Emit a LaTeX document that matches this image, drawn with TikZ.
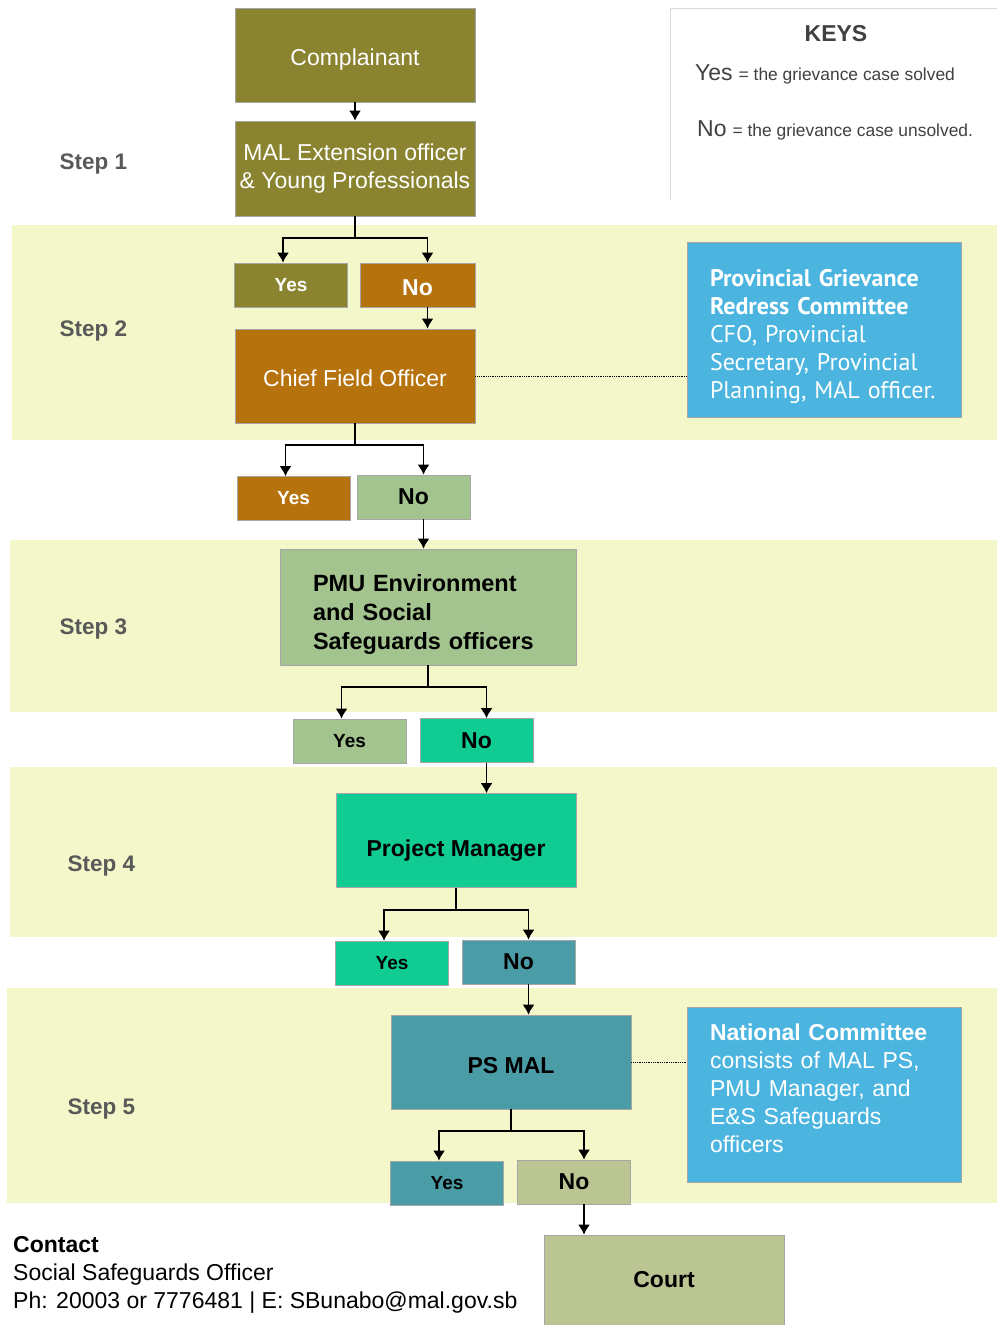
\documentclass[tikz,border=0pt]{standalone}
\usepackage{fontspec}
\setmainfont{Liberation Sans}
\newfontfamily\ptsans{PT Sans}
\usetikzlibrary{arrows.meta}
\definecolor{colOlive}{RGB}{138,132,48}
\definecolor{colOrange}{RGB}{182,114,12}
\definecolor{colSage}{RGB}{163,196,143}
\definecolor{colMint}{RGB}{16,204,147}
\definecolor{colTeal}{RGB}{74,156,166}
\definecolor{colKhaki}{RGB}{187,197,147}
\definecolor{colSky}{RGB}{75,181,224}
\definecolor{colBand}{RGB}{243,247,201}
\definecolor{colStep}{RGB}{89,89,89}
\begin{document}
\begin{tikzpicture}[x=1pt,y=-1pt]
	\tikzstyle{band}=[fill=colBand]
	\tikzstyle{box}=[draw=black!35,line width=0.6pt,minimum width=240pt,minimum height=94pt,inner sep=2pt,font=\fontsize{23}{28}\selectfont]
	\tikzstyle{ans}=[draw=black!35,line width=0.6pt,minimum width=113pt,minimum height=44pt,inner sep=1pt]
	\tikzstyle{yes}=[ans,font=\bfseries\fontsize{19}{20}\selectfont]
	\tikzstyle{no}=[ans,font=\bfseries\fontsize{23}{24}\selectfont]
	\tikzstyle{committee}=[draw=black!35,line width=0.6pt,fill=colSky,text=white,minimum width=274pt,minimum height=175pt,text width=228pt,align=left,inner sep=0pt]
	\tikzstyle{steplabel}=[anchor=west,text=colStep,font=\bfseries\fontsize{22.5}{24}\selectfont]
	\tikzstyle{flow}=[-{Latex[length=10pt,width=12pt]},line width=1.8pt]
	\useasboundingbox (0,0) rectangle (997,1325);
	% step bands
	\fill[band] (12,225) rectangle (997,440);
	\fill[band] (10,540) rectangle (997,712);
	\fill[band] (10,767) rectangle (997,937);
	\fill[band] (7,988) rectangle (997,1203);
	% keys
	\draw[black!15,line width=0.8pt] (670,200) -- (670,8) -- (997,8);
	\node[text=black!75,font=\bfseries\fontsize{23}{24}\selectfont] (keys) at (836,34) {KEYS};
	\node[anchor=west,text=black!75,inner sep=0pt] (keyyes) at (695,74) {{\fontsize{23}{24}\selectfont Yes}\hspace{6pt}{\fontsize{17.4}{18}\selectfont = the grievance case solved}};
	\node[anchor=west,text=black!75,inner sep=0pt] (keyno) at (697,130) {{\fontsize{23}{24}\selectfont No}\hspace{6pt}{\fontsize{17.4}{18}\selectfont = the grievance case unsolved.}};
	% steps
	\node[steplabel] (s1) at (56,164) {Step 1};
	\node[steplabel] (s2) at (56,331) {Step 2};
	\node[steplabel] (s3) at (56,629) {Step 3};
	\node[steplabel] (s4) at (64,866) {Step 4};
	\node[steplabel] (s5) at (64,1109) {Step 5};
	% step 1
	\node[box,fill=colOlive,text=white,text height=20.5pt,text depth=0pt] (comp) at (355,55) {Complainant};
	\node[box,fill=colOlive,text=white,minimum height=95pt,align=center] (mal) at (355,168.5) {MAL Extension officer\\\& Young Professionals};
	\node[yes,fill=colOlive,text=white] (yes1) at (291,285) {Yes};
	\node[no,fill=colOrange,text=white,minimum width=115pt,text height=20pt,text depth=0pt] (no1) at (417.5,285) {No};
	% step 2
	\node[box,fill=colOrange,text=white,text height=20.5pt,text depth=0pt] (chief) at (355,376) {Chief Field Officer};
	\node[committee,font=\ptsans\fontsize{24}{28}\selectfont] (prov) at (824,329.5) {\rule{0pt}{31pt}\textbf{Provincial Grievance}\\\textbf{Redress Committee}\\CFO, Provincial\\Secretary, Provincial\\Planning, MAL officer.};
	\node[yes,fill=colOrange,text=white] (yes2) at (293.5,498.5) {Yes};
	\node[no,fill=colSage] (no2) at (413.5,497) {No};
	% step 3
	\node[box,fill=colSage,minimum width=296pt,minimum height=116pt,text width=230pt,align=left,font=\bfseries\fontsize{23.5}{29}\selectfont] (pmu) at (428,607) {\rule{0pt}{31pt}PMU Environment\\and Social\\Safeguards officers};
	\node[yes,fill=colSage] (yes3) at (349.5,741) {Yes};
	\node[no,fill=colMint] (no3) at (476.5,740.5) {No};
	% step 4
	\node[box,fill=colMint,font=\bfseries\fontsize{23}{28}\selectfont,text height=31.5pt,text depth=0pt] (pm) at (456,840.5) {Project Manager};
	\node[yes,fill=colMint] (yes4) at (392,963) {Yes};
	\node[no,fill=colTeal] (no4) at (518.5,962) {No};
	% step 5
	\node[box,fill=colTeal,font=\bfseries\fontsize{23}{28}\selectfont,text height=22.5pt,text depth=0pt] (psmal) at (511,1062) {PS MAL};
	\node[committee,font=\fontsize{23}{28}\selectfont] (nat) at (824,1094.5) {\textbf{National Committee}\\consists of MAL PS,\\PMU Manager, and\\E\&S Safeguards\\officers\rule[-12pt]{0pt}{12pt}};
	\node[yes,fill=colTeal] (yes5) at (447,1183) {Yes};
	\node[no,fill=colKhaki] (no5) at (574,1182) {No};
	\node[box,fill=colKhaki,minimum height=90pt,font=\bfseries\fontsize{23}{28}\selectfont] (court) at (664,1280) {Court};
	% contact
	\node[anchor=north west,align=left,inner sep=0pt,font=\fontsize{23}{28}\selectfont] (contact) at (13,1236) {\textbf{Contact}\\Social Safeguards Officer\\Ph: 20003 or 7776481 | E: SBunabo@mal.gov.sb};
	% connectors
	\draw[flow] (comp) -- (mal);
	\foreach \p/\y/\n/\nxt in {mal/yes1/no1/chief, chief/yes2/no2/pmu, pmu/yes3/no3/pm, pm/yes4/no4/psmal, psmal/yes5/no5/court}
	{
		\draw[flow] (\p.south) -- ++(0,22) -| ([xshift=-8pt]\y.north);
		\draw[flow] (\p.south) ++(0,22) -| ([xshift=10pt]\n.north);
		\draw[flow] ([xshift=10pt]\n.south) -- ([xshift=10pt]\n.south |- \nxt.north);
	}
	\draw[densely dotted,line width=0.8pt] (chief.east) -- (chief.east -| prov.west);
	\draw[densely dotted,line width=0.8pt] (psmal.east) -- (psmal.east -| nat.west);
\end{tikzpicture}
\end{document}
